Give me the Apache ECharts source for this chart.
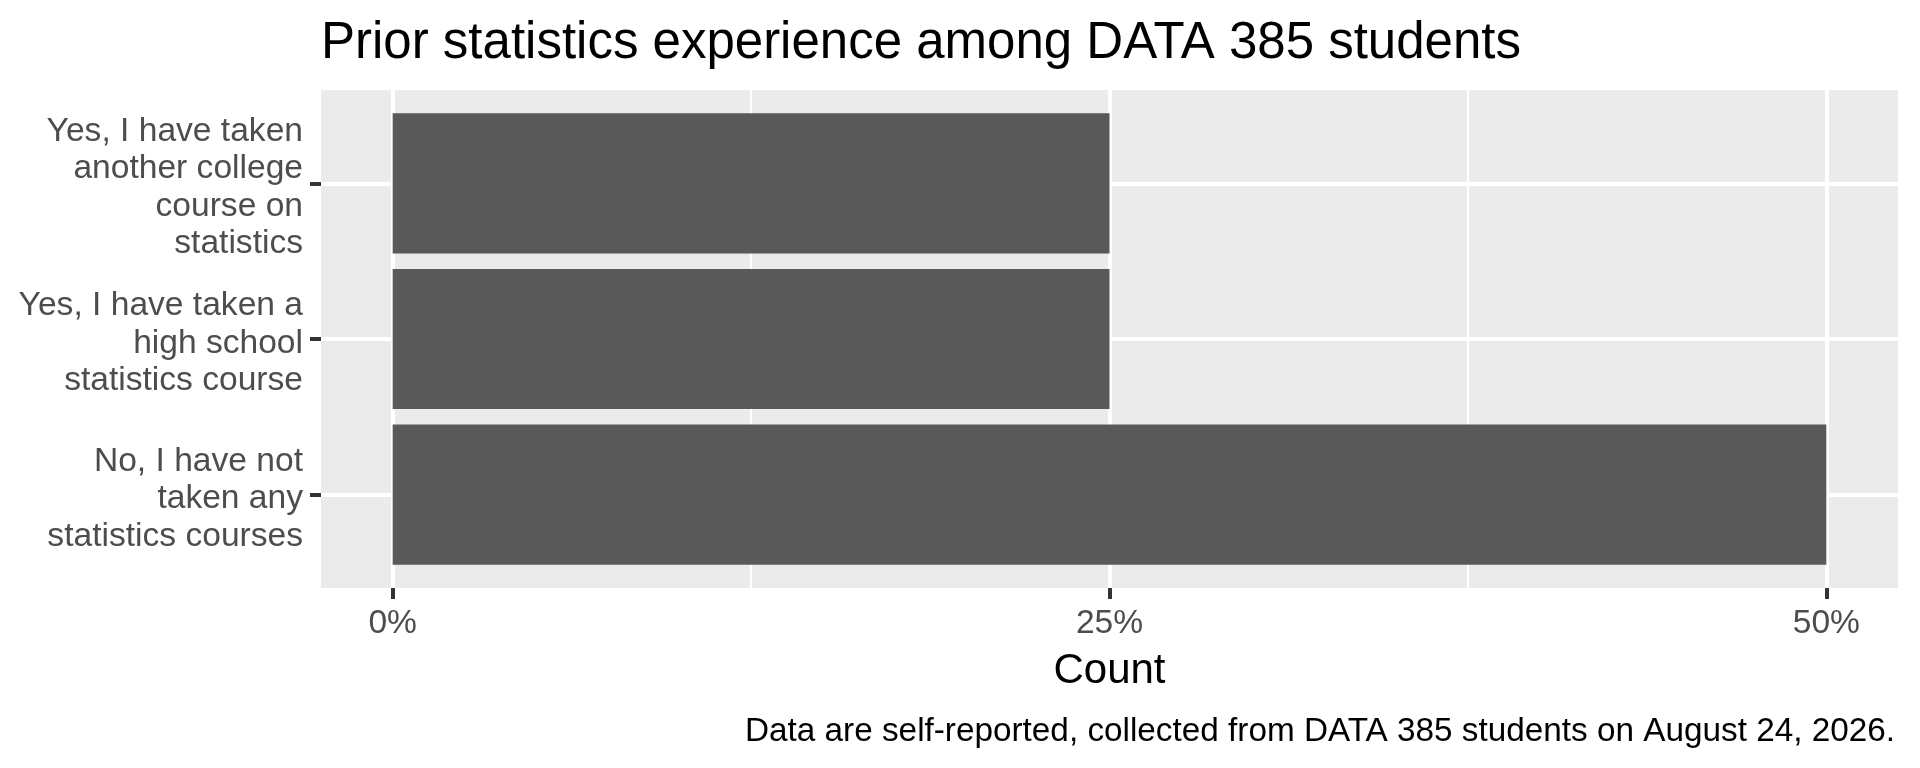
<!DOCTYPE html>
<html>
<head>
<meta charset="utf-8">
<title>Prior statistics experience</title>
<script src="https://cdn.jsdelivr.net/npm/echarts@6/dist/echarts.min.js"></script>
<style>
  html, body { margin: 0; padding: 0; background: #fff; }
  #chart { width: 1920px; height: 768px; }
</style>
</head>
<body>
<div id="chart"></div>
<script>
// categories bottom -> top, same order as the y positions 1, 2, 3
const categories = [
  'No, I have not\ntaken any\nstatistics courses',
  'Yes, I have taken a\nhigh school\nstatistics course',
  'Yes, I have taken\nanother college\ncourse on\nstatistics'
];
const shares = [50, 25, 25];          // percent of students
const xMajorTicks = [0, 25, 50];
const xAllTicks = [0, 12.5, 25, 37.5, 50];
const yPositions = [1, 2, 3];

const FONT = "'Liberation Sans', Arial, Helvetica, sans-serif";

var chart = echarts.init(document.getElementById('chart'));

// bars are drawn from the axes' own scales (0.9 of a category step tall)
function renderBar(params, api) {
  var start = api.coord([0, api.value(1)]);
  var end = api.coord([api.value(0), api.value(1)]);
  var h = api.size([0, 0.9])[1];
  return {
    type: 'rect',
    shape: { x: start[0], y: start[1] - h / 2, width: end[0] - start[0], height: h },
    style: { fill: '#595959' }
  };
}

// wrapped label, with a small empty line on top to nudge the block down a bit
function yLabel(v) {
  var lines = categories[Math.round(v) - 1].split('\n');
  return '{sp|}\n' + lines.map(function (l) { return '{t|' + l + '}'; }).join('\n');
}

chart.setOption({
  backgroundColor: '#ffffff',
  animation: false,
  title: [
    {
      text: 'Prior statistics experience among DATA 385 students',
      left: 321,
      top: 18,
      padding: 0,
      textStyle: { fontFamily: FONT, fontSize: 51, lineHeight: 51, fontWeight: 'normal', color: '#000' }
    },
    {
      text: 'Data are self-reported, collected from DATA 385 students on August 24, 2026.',
      right: 25,
      top: 715,
      padding: 0,
      textStyle: { fontFamily: FONT, fontSize: 33.3, lineHeight: 34, fontWeight: 'normal', color: '#000' }
    }
  ],
  grid: {
    left: 321, right: 22, top: 90, bottom: 180,
    show: true, backgroundColor: '#EBEBEB', borderWidth: 0
  },
  xAxis: [
    {
      // minor + major grid lines only
      type: 'value', min: -2.5, max: 52.5,
      axisLine: { show: false, onZero: false },
      axisTick: { show: false, customValues: xAllTicks },
      axisLabel: { show: false },
      splitLine: { show: true, lineStyle: { color: '#ffffff', width: 2 } }
    },
    {
      type: 'value', min: -2.5, max: 52.5, position: 'bottom',
      name: 'Count', nameLocation: 'middle', nameGap: 62,
      nameTextStyle: { fontFamily: FONT, fontSize: 42, lineHeight: 42, color: '#000' },
      axisLine: { show: false, onZero: false },
      axisTick: { show: true, length: 11, customValues: xMajorTicks, lineStyle: { color: '#333333', width: 4 } },
      axisLabel: {
        customValues: xMajorTicks, margin: 19,
        fontFamily: FONT, fontSize: 33.6, lineHeight: 34, color: '#4D4D4D',
        formatter: '{value}%'
      },
      splitLine: { show: true, lineStyle: { color: '#ffffff', width: 4 } }
    }
  ],
  yAxis: {
    type: 'value', min: 0.4, max: 3.6, position: 'left',
    axisLine: { show: false, onZero: false },
    axisTick: { show: true, length: 11, customValues: yPositions, lineStyle: { color: '#333333', width: 4 } },
    axisLabel: {
      customValues: yPositions, margin: 18,
      fontFamily: FONT, fontSize: 33.6, color: '#4D4D4D', align: 'right',
      formatter: yLabel,
      rich: {
        sp: { fontSize: 8, lineHeight: 9, height: 9 },
        t: { fontFamily: FONT, fontSize: 33.6, lineHeight: 37.5, color: '#4D4D4D', align: 'right' }
      }
    },
    splitLine: { show: true, lineStyle: { color: '#ffffff', width: 4 } }
  },
  series: [{
    type: 'custom',
    xAxisIndex: 0,
    renderItem: renderBar,
    encode: { x: 0, y: 1 },
    data: shares.map(function (v, i) { return [v, yPositions[i]]; })
  }]
});
</script>
</body>
</html>
